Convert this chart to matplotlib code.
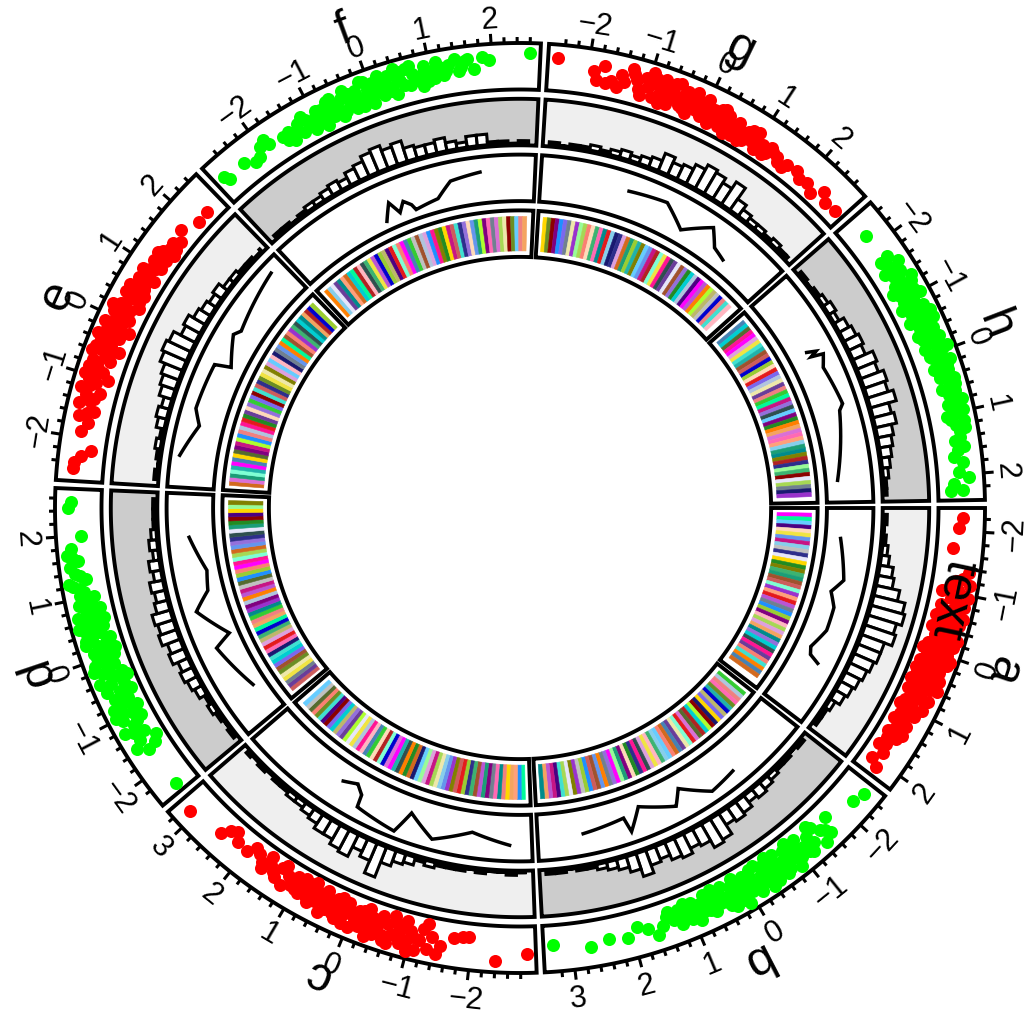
import numpy as np
import matplotlib
matplotlib.use("Agg")
import matplotlib.pyplot as plt
from matplotlib.patches import Polygon

# sectors and their x ranges (data units)
sectors = ["a", "b", "c", "d", "e", "f", "g", "h"]
xlims = [(-2.25, 2.13), (-2.46, 3.34), (-2.92, 3.20), (-2.37, 2.63),
         (-2.58, 2.44), (-2.79, 2.64), (-2.53, 2.73), (-2.44, 2.29)]
point_colors = ["#FF0000", "#00FF00"] * 4
hist_bg = ["#EFEFEF", "#CCCCCC"] * 4

# track 1: points (x, y in 0..1)
points_a = [(-2.22, .53), (-2.05, .43), (-1.71, .29), (-1.35, .85), (-1.25, .70), (-1.15, .92), (-1.05, .60),
            (-0.98, .80), (-0.9, .45), (-0.85, .70), (-0.8, .90), (-0.72, .55), (-0.7, .30), (-0.65, .75),
            (-0.6, .15), (-0.55, .50), (-0.5, .88), (-0.45, .65), (-0.42, .35), (-0.4, .10), (-0.35, .80),
            (-0.3, .55), (-0.28, .25), (-0.22, .70), (-0.2, .45), (-0.15, .90), (-0.12, .15), (-0.08, .60),
            (-0.05, .35), (0.0, .80), (0.02, .50), (0.05, .20), (0.1, .68), (0.12, .40), (0.15, .88),
            (0.2, .10), (0.22, .55), (0.28, .30), (0.3, .75), (0.35, .50), (0.4, .15), (0.42, .85),
            (0.48, .62), (0.5, .38), (0.55, .20), (0.6, .70), (0.65, .48), (0.7, .08), (0.72, .30),
            (0.8, .60), (0.85, .40), (0.9, .15), (0.95, .75), (1.0, .50), (1.05, .25), (1.1, .62),
            (1.2, .40), (1.25, .10), (1.3, .55), (1.4, .30), (1.5, .15), (1.55, .48), (1.7, .30),
            (1.75, .12), (1.85, .38), (2.0, .20), (2.1, .45),
            (-1.1, .35), (-1.0, .15), (-0.95, .95), (-0.78, .20), (-0.62, .95), (-0.52, .30), (-0.38, .60),
            (-0.25, .95), (-0.18, .30), (-0.02, .05), (0.08, .95), (0.18, .75), (0.25, .40), (0.33, .05),
            (0.38, .65), (0.45, .28), (0.58, .90), (0.62, .55), (0.75, .45), (0.78, .80), (0.88, .28),
            (0.98, .05), (1.08, .40), (1.15, .20), (1.35, .40), (1.45, .60), (1.6, .25), (-1.2, .50),
            (-0.6, .62), (0.53, .05)]
points_b = [(-2.4, .65), (-2.2, .55), (-1.7, .30), (-1.6, .70), (-1.5, .45), (-1.45, .85), (-1.4, .20),
            (-1.3, .60), (-1.25, .35), (-1.2, .80), (-1.1, .50), (-1.05, .15), (-1.0, .70), (-0.95, .35),
            (-0.9, .90), (-0.85, .55), (-0.8, .20), (-0.75, .75), (-0.7, .45), (-0.62, .10), (-0.6, .62),
            (-0.55, .30), (-0.5, .85), (-0.45, .50), (-0.4, .20), (-0.35, .70), (-0.3, .40), (-0.25, .05),
            (-0.22, .58), (-0.18, .85), (-0.12, .28), (-0.1, .45), (-0.05, .70), (0.0, .15), (0.05, .55),
            (0.1, .35), (0.12, .80), (0.18, .05), (0.2, .60), (0.25, .25), (0.3, .45), (0.35, .75),
            (0.4, .12), (0.45, .38), (0.5, .55), (0.55, .22), (0.6, .70), (0.65, .40), (0.72, .10),
            (0.78, .55), (0.82, .30), (0.9, .45), (0.95, .15), (1.0, .62), (1.05, .35), (1.12, .50),
            (1.2, .20), (1.3, .45), (1.4, .28), (1.6, .70), (1.9, .30), (2.1, .55), (2.4, .45),
            (2.7, .60), (3.3, .40),
            (-1.55, .55), (-1.35, .10), (-1.15, .70), (-1.02, .45), (-0.88, .05), (-0.78, .40), (-0.68, .85),
            (-0.58, .45), (-0.48, .05), (-0.38, .92), (-0.28, .60), (-0.15, .10), (-0.02, .40), (0.08, .95),
            (0.15, .45), (0.28, .85), (0.38, .60), (0.48, .30), (0.58, .05), (0.68, .60), (0.75, .30),
            (0.88, .75), (0.98, .25), (1.08, .10), (1.18, .65), (1.25, .35), (1.35, .15), (1.5, .50),
            (1.75, .45)]
points_c = [(-2.9, .62), (-2.4, .85), (-1.95, .22), (-1.85, .25), (-1.7, .30), (-1.5, .60), (-1.45, .85),
            (-1.35, .40), (-1.3, .75), (-1.2, .20), (-1.15, .55), (-1.1, .88), (-1.0, .35), (-0.95, .65),
            (-0.9, .10), (-0.85, .80), (-0.8, .45), (-0.75, .25), (-0.7, .60), (-0.65, .90), (-0.6, .35),
            (-0.55, .70), (-0.5, .15), (-0.45, .50), (-0.4, .78), (-0.35, .30), (-0.3, .60), (-0.25, .10),
            (-0.2, .45), (-0.15, .70), (-0.1, .25), (-0.05, .55), (0.0, .85), (0.05, .35), (0.1, .15),
            (0.15, .60), (0.2, .40), (0.25, .75), (0.3, .20), (0.35, .50), (0.4, .30), (0.45, .65),
            (0.5, .10), (0.55, .45), (0.6, .25), (0.65, .55), (0.7, .35), (0.75, .70), (0.8, .15),
            (0.85, .45), (0.9, .28), (0.95, .60), (1.0, .40), (1.05, .15), (1.1, .50), (1.2, .30),
            (1.25, .65), (1.35, .20), (1.45, .45), (1.55, .30), (1.65, .55), (1.8, .25), (2.0, .40),
            (2.2, .35), (2.3, .15), (2.4, .25), (2.5, .50), (3.1, .68),
            (-1.25, .05), (-1.05, .50), (-0.98, .95), (-0.88, .30), (-0.78, .65), (-0.68, .05), (-0.58, .85),
            (-0.48, .30), (-0.38, .55), (-0.28, .90), (-0.18, .20), (-0.08, .65), (0.02, .45), (0.12, .80),
            (0.22, .10), (0.32, .65), (0.42, .48), (0.52, .80), (0.62, .40), (0.72, .05), (0.82, .55),
            (0.92, .10), (1.02, .55), (1.15, .35), (1.3, .05), (1.4, .55), (1.6, .10), (1.7, .40),
            (1.9, .15)]
points_d = [(-2.35, .45), (-1.65, .50), (-1.6, .25), (-1.55, .80), (-1.45, .60), (-1.35, .35), (-1.25, .90),
            (-1.2, .55), (-1.1, .20), (-1.05, .75), (-1.0, .40), (-0.95, .65), (-0.9, .15), (-0.85, .85),
            (-0.8, .50), (-0.75, .30), (-0.7, .70), (-0.62, .10), (-0.6, .45), (-0.55, .80), (-0.5, .25),
            (-0.45, .60), (-0.4, .90), (-0.35, .40), (-0.3, .15), (-0.25, .70), (-0.2, .50), (-0.15, .30),
            (-0.1, .85), (-0.05, .60), (0.0, .20), (0.05, .45), (0.1, .75), (0.15, .35), (0.2, .55),
            (0.25, .90), (0.3, .15), (0.35, .65), (0.4, .40), (0.45, .80), (0.5, .25), (0.55, .55),
            (0.6, .70), (0.65, .35), (0.7, .90), (0.75, .50), (0.8, .20), (0.85, .65), (0.9, .80),
            (0.95, .40), (1.05, .70), (1.1, .55), (1.2, .85), (1.3, .45), (1.4, .75), (1.6, .60),
            (1.7, .90), (1.8, .75), (2.0, .45), (2.45, .80), (2.55, .70),
            (-1.5, .10), (-1.3, .65), (-1.15, .40), (-0.98, .90), (-0.88, .30), (-0.78, .60), (-0.68, .45),
            (-0.58, .20), (-0.48, .75), (-0.38, .05), (-0.28, .55), (-0.18, .95), (-0.08, .40), (0.02, .70),
            (0.12, .10), (0.22, .30), (0.32, .85), (0.42, .60), (0.52, .95), (0.62, .15), (0.72, .60),
            (0.82, .40), (0.92, .60), (1.0, .30), (1.15, .65), (1.25, .95), (1.35, .60), (1.5, .85),
            (1.65, .75)]
points_e = [(-2.5, .70), (-2.4, .68), (-2.3, .50), (-2.2, .25), (-1.9, .60), (-1.75, .45), (-1.65, .75),
            (-1.55, .35), (-1.45, .85), (-1.4, .55), (-1.3, .70), (-1.25, .30), (-1.2, .90), (-1.1, .50),
            (-1.05, .75), (-1.0, .20), (-0.95, .60), (-0.9, .40), (-0.85, .85), (-0.8, .65), (-0.7, .30),
            (-0.65, .50), (-0.6, .92), (-0.55, .70), (-0.5, .15), (-0.45, .45), (-0.4, .80), (-0.35, .60),
            (-0.3, .30), (-0.25, .75), (-0.2, .50), (-0.15, .10), (-0.1, .90), (-0.05, .40), (0.0, .65),
            (0.05, .25), (0.1, .80), (0.15, .50), (0.2, .35), (0.25, .70), (0.3, .15), (0.35, .55),
            (0.4, .40), (0.45, .75), (0.5, .20), (0.55, .60), (0.65, .35), (0.7, .50), (0.8, .15),
            (0.85, .40), (0.9, .65), (1.0, .30), (1.1, .50), (1.2, .20), (1.3, .45), (1.35, .10),
            (1.5, .35), (1.6, .20), (1.75, .40), (2.05, .15), (2.25, .18),
            (-1.6, .55), (-1.35, .45), (-1.15, .65), (-0.98, .90), (-0.88, .55), (-0.75, .80), (-0.62, .40),
            (-0.52, .85), (-0.42, .60), (-0.32, .95), (-0.22, .30), (-0.12, .75), (-0.02, .50), (0.08, .35),
            (0.18, .90), (0.28, .60), (0.38, .25), (0.48, .45), (0.58, .75), (0.6, .30), (0.75, .60),
            (0.95, .45), (1.05, .20), (1.15, .35), (1.25, .55), (1.4, .30), (1.45, .15)]
points_f = [(-2.75, .55), (-2.7, .40), (-2.35, .50), (-2.2, .30), (-2.1, .35), (-2.0, .60), (-1.9, .70),
            (-1.85, .50), (-1.6, .45), (-1.55, .30), (-1.45, .20), (-1.4, .40), (-1.3, .55), (-1.25, .25),
            (-1.2, .70), (-1.1, .35), (-1.05, .15), (-1.0, .50), (-0.95, .65), (-0.9, .30), (-0.85, .10),
            (-0.8, .45), (-0.75, .75), (-0.7, .25), (-0.65, .55), (-0.6, .40), (-0.55, .15), (-0.5, .65),
            (-0.45, .85), (-0.4, .35), (-0.35, .50), (-0.3, .20), (-0.25, .70), (-0.2, .45), (-0.15, .90),
            (-0.1, .30), (-0.05, .60), (0.0, .15), (0.05, .75), (0.1, .45), (0.15, .90), (0.2, .30),
            (0.25, .60), (0.3, .80), (0.35, .45), (0.4, .20), (0.45, .70), (0.5, .55), (0.6, .85),
            (0.65, .35), (0.7, .65), (0.8, .50), (0.85, .25), (0.9, .80), (1.0, .60), (1.05, .40),
            (1.15, .70), (1.25, .55), (1.4, .85), (1.5, .60), (1.55, .75), (1.7, .50), (1.85, .80),
            (1.95, .70), (2.6, .90),
            (-1.5, .50), (-1.35, .35), (-1.15, .55), (-0.98, .25), (-0.88, .60), (-0.78, .30), (-0.68, .80),
            (-0.58, .55), (-0.48, .25), (-0.38, .70), (-0.28, .55), (-0.18, .20), (-0.08, .85), (0.02, .45),
            (0.12, .65), (0.22, .75), (0.32, .35), (0.42, .95), (0.52, .80), (0.55, .40), (0.68, .90),
            (0.75, .45), (0.88, .60), (0.95, .35), (1.1, .85), (1.2, .45), (1.3, .70), (1.45, .50),
            (1.6, .80)]
points_g = [(-2.5, .80), (-1.9, .55), (-1.85, .30), (-1.75, .75), (-1.7, .25), (-1.6, .35), (-1.5, .20),
            (-1.45, .60), (-1.3, .85), (-1.2, .55), (-1.15, .30), (-1.05, .70), (-1.0, .45), (-0.95, .90),
            (-0.9, .20), (-0.85, .60), (-0.8, .35), (-0.75, .80), (-0.7, .50), (-0.65, .15), (-0.6, .65),
            (-0.55, .40), (-0.5, .85), (-0.45, .25), (-0.4, .55), (-0.35, .70), (-0.3, .10), (-0.25, .45),
            (-0.2, .80), (-0.15, .30), (-0.1, .60), (-0.05, .20), (0.0, .75), (0.05, .45), (0.1, .10),
            (0.15, .55), (0.2, .30), (0.25, .65), (0.3, .15), (0.35, .45), (0.4, .60), (0.45, .25),
            (0.5, .40), (0.55, .10), (0.6, .55), (0.7, .30), (0.75, .15), (0.8, .45), (0.9, .25),
            (0.95, .60), (1.0, .10), (1.1, .35), (1.2, .20), (1.25, .45), (1.4, .30), (1.55, .15),
            (1.8, .35), (1.9, .20), (2.05, .25), (2.2, .10), (2.35, .40), (2.5, .20), (2.7, .25),
            (-1.4, .40), (-1.25, .70), (-1.1, .15), (-0.98, .60), (-0.88, .75), (-0.78, .10), (-0.68, .35),
            (-0.58, .80), (-0.48, .45), (-0.38, .20), (-0.28, .65), (-0.18, .55), (-0.08, .35), (0.02, .55),
            (0.12, .35), (0.22, .50), (0.32, .70), (0.42, .05), (0.52, .25), (0.62, .40), (0.68, .05),
            (0.78, .30), (0.85, .55), (0.98, .35), (1.05, .25), (1.15, .10), (1.3, .35), (1.45, .20),
            (1.6, .30)]
points_h = [(-2.2, .45), (-1.75, .60), (-1.7, .35), (-1.6, .80), (-1.55, .50), (-1.5, .25), (-1.45, .70),
            (-1.4, .45), (-1.3, .90), (-1.25, .30), (-1.2, .60), (-1.15, .15), (-1.1, .75), (-1.05, .45),
            (-1.0, .90), (-0.95, .30), (-0.9, .60), (-0.85, .15), (-0.8, .80), (-0.75, .50), (-0.7, .35),
            (-0.65, .70), (-0.6, .20), (-0.55, .90), (-0.5, .55), (-0.45, .40), (-0.4, .75), (-0.35, .25),
            (-0.3, .60), (-0.25, .85), (-0.2, .45), (-0.15, .65), (-0.1, .30), (-0.05, .80), (0.0, .55),
            (0.05, .40), (0.1, .70), (0.15, .90), (0.2, .50), (0.25, .35), (0.3, .75), (0.35, .60),
            (0.4, .45), (0.45, .85), (0.5, .65), (0.6, .40), (0.65, .75), (0.7, .55), (0.8, .90),
            (0.85, .45), (0.9, .70), (1.0, .60), (1.05, .35), (1.15, .80), (1.2, .55), (1.3, .65),
            (1.45, .45), (1.55, .70), (1.7, .35), (1.8, .60), (1.95, .45), (2.05, .75), (2.15, .30),
            (2.25, .55), (2.25, .20),
            (-1.65, .45), (-1.5, .65), (-1.35, .55), (-1.22, .80), (-1.08, .30), (-0.98, .65), (-0.88, .40),
            (-0.78, .65), (-0.68, .90), (-0.58, .40), (-0.48, .75), (-0.38, .50), (-0.28, .35), (-0.18, .70),
            (-0.08, .95), (0.02, .35), (0.12, .55), (0.22, .75), (0.32, .45), (0.42, .65), (0.55, .80),
            (0.62, .55), (0.75, .70), (0.88, .60), (0.98, .85), (1.1, .45), (1.25, .80), (1.4, .60),
            (1.6, .50)]
points = [points_a, points_b, points_c, points_d, points_e, points_f, points_g, points_h]

# track 2: histogram counts, bins of 0.2 from the sector start
HIST_BIN, HIST_MAX = 0.2, 16
hist_a = [1, 0, 1, 2, 3, 5, 6, 9, 12, 13, 11, 12, 9, 9, 8, 7, 6, 5, 4, 2, 1, 1]
hist_b = [1, 0, 1, 1, 2, 3, 4, 3, 5, 6, 5, 9, 10, 7, 6, 8, 7, 5, 6, 9, 6, 4, 3, 2, 1, 1, 0, 1, 1]
hist_c = [0, 1, 0, 0, 1, 0, 1, 1, 1, 2, 1, 3, 4, 6, 12, 7, 5, 9, 8, 6, 6, 4, 3, 2, 2, 1, 1, 0, 1, 0, 1]
hist_d = [1, 0, 1, 2, 1, 3, 4, 5, 4, 6, 5, 7, 6, 7, 5, 4, 5, 3, 4, 2, 3, 2, 1, 1, 1]
hist_e = [1, 0, 1, 2, 1, 3, 4, 3, 5, 6, 7, 9, 10, 9, 6, 7, 5, 4, 3, 4, 2, 2, 1, 1, 0, 1]
hist_f = [1, 1, 0, 1, 2, 2, 3, 4, 3, 5, 6, 8, 9, 7, 8, 5, 4, 4, 5, 3, 2, 4, 4, 1, 1, 0, 1, 0]
hist_g = [1, 0, 1, 1, 2, 1, 2, 3, 2, 3, 4, 7, 5, 6, 8, 10, 9, 7, 10, 5, 3, 2, 2, 1, 2, 1, 1]
hist_h = [1, 0, 1, 2, 3, 2, 4, 5, 6, 5, 8, 7, 9, 8, 10, 7, 8, 6, 5, 4, 3, 2, 1, 1]
hists = [hist_a, hist_b, hist_c, hist_d, hist_e, hist_f, hist_g, hist_h]

# track 3: line per sector (x, y in 0..1)
line_a = [(-1.70, .30), (-0.81, .54), (-0.51, .30), (-0.19, .48), (0.33, .50), (0.79, .30), (0.95, .38), (1.05, .64)]
line_b = [(-1.0, .70), (-0.4, .80), (0.19, .30), (0.41, .66), (1.16, .28), (1.48, .80), (1.55, .42), (2.48, .54)]
line_c = [(-2.57, .68), (-1.75, .44), (-0.94, .81), (-0.36, .34), (-0.14, .91), (0.76, .75), (0.80, .44),
          (0.99, .25), (1.30, .38)]
line_d = [(-1.71, .25), (-0.63, .60), (-0.44, .16), (0.24, .74), (0.61, .32), (1.05, .23), (1.82, .55)]
line_e = [(-2.04, .85), (-1.35, .52), (-1.01, .72), (-0.01, .68), (0.09, .28), (0.74, .62), (0.89, .50), (2.25, .80)]
line_f = [(-0.65, .15), (-0.45, .55), (-0.3, .22), (-0.15, .45), (0.0, .30), (0.06, .15), (0.6, .25),
          (0.95, .60), (1.6, .70)]
line_g = [(-0.74, .62), (0.10, .72), (0.63, .28), (1.20, .76), (1.47, .37), (1.78, .26)]
line_h = [(-1.0, .40), (-0.93, .62), (-0.87, .45), (-0.81, .75), (-0.55, .60), (0.31, .72), (0.43, .60), (1.92, .22)]
lines = [line_a, line_b, line_c, line_d, line_e, line_f, line_g, line_h]

# track 4: colour stripes of width 0.1
STRIPE_W = 0.1
palette = ["#E41A1C", "#FF7F00", "#FFD700", "#F0E442", "#A6D854", "#33CC33", "#1B9E77", "#00CED1",
           "#66CCFF", "#1E90FF", "#0000CD", "#2E2E8B", "#6A3D9A", "#9932CC", "#FF00FF", "#FF69B4",
           "#FFB6C1", "#C71585", "#8B0000", "#A0522D", "#D2691E", "#F4A460", "#FFDAB9", "#BDB76B",
           "#808000", "#556B2F", "#2F4F4F", "#708090", "#B0C4DE", "#87CEEB", "#40E0D0", "#7FFFD4",
           "#98FB98", "#00FA9A", "#ADFF2F", "#9ACD32", "#6B8E23", "#228B22", "#008B8B", "#4682B4",
           "#6495ED", "#7B68EE", "#BA55D3", "#DA70D6", "#DDA0DD", "#E6E6FA", "#F08080", "#FA8072",
           "#CD5C5C", "#B22222", "#800080", "#4B0082", "#191970", "#FF1493", "#FFA07A", "#EEE8AA",
           "#C0C0C0", "#20B2AA", "#3CB371", "#9370DB"]
stripes_a = [14, 33, 8, 51, 22, 3, 40, 17, 29, 56, 11, 45, 2, 37, 24, 58, 6, 19, 48, 31, 13, 54, 0, 42, 27,
             9, 35, 50, 16, 4, 44, 21, 38, 59, 7, 26, 53, 12, 47, 30, 1, 39, 20]
stripes_b = [5, 28, 46, 15, 36, 57, 10, 23, 41, 2, 52, 18, 34, 7, 49, 25, 43, 0, 31, 55, 12, 39, 20, 47, 8,
             29, 58, 16, 3, 44, 26, 53, 11, 37, 22, 50, 6, 32, 14, 59, 27, 1, 40, 19, 48, 9, 35, 56, 13, 24,
             45, 4, 30, 51, 17, 42, 21, 38]
stripes_c = [33, 9, 54, 21, 2, 46, 38, 15, 27, 50, 6, 42, 19, 58, 11, 35, 0, 48, 24, 13, 40, 29, 55, 4, 17,
             44, 32, 8, 52, 20, 37, 1, 26, 57, 14, 43, 10, 31, 49, 22, 5, 39, 16, 53, 28, 3, 45, 34, 12, 59,
             23, 7, 41, 18, 51, 30, 36, 47, 25, 56, 8]
stripes_d = [48, 12, 27, 3, 55, 36, 19, 41, 7, 30, 52, 15, 0, 44, 23, 58, 10, 33, 21, 46, 5, 38, 13, 50, 28,
             1, 42, 17, 56, 25, 9, 35, 47, 14, 53, 31, 4, 20, 40, 59, 11, 26, 45, 6, 37, 18, 51, 2, 32, 24]
stripes_e = [20, 43, 6, 31, 57, 14, 39, 2, 25, 50, 17, 34, 9, 46, 28, 53, 0, 37, 12, 22, 59, 5, 41, 18, 30,
             48, 11, 36, 3, 55, 24, 44, 8, 16, 52, 27, 40, 1, 33, 19, 47, 13, 58, 26, 7, 38, 21, 49, 10, 35]
stripes_f = [1, 29, 45, 12, 38, 54, 20, 7, 33, 49, 16, 26, 58, 3, 42, 10, 35, 23, 51, 0, 31, 47, 14, 39, 5,
             56, 19, 28, 44, 9, 53, 24, 37, 2, 17, 48, 30, 11, 59, 22, 40, 6, 34, 50, 15, 27, 43, 4, 55, 18,
             36, 8, 46, 21]
stripes_g = [2, 36, 18, 50, 9, 41, 27, 55, 13, 32, 4, 47, 22, 58, 15, 38, 0, 29, 52, 11, 44, 20, 6, 35, 57,
             24, 8, 40, 17, 49, 31, 3, 53, 26, 12, 45, 19, 59, 37, 7, 28, 51, 14, 42, 1, 34, 23, 56, 10, 46,
             30, 16]
stripes_h = [39, 7, 25, 53, 14, 44, 3, 30, 57, 19, 48, 10, 35, 22, 0, 41, 28, 55, 12, 46, 5, 33, 17, 59, 26,
             8, 50, 37, 1, 21, 43, 15, 54, 29, 6, 38, 24, 49, 11, 32, 58, 18, 45, 4, 27, 52, 13]
stripes = [stripes_a, stripes_b, stripes_c, stripes_d, stripes_e, stripes_f, stripes_g, stripes_h]

FONT = "Liberation Sans"

fig = plt.figure(figsize=(10.29, 10.15), dpi=100)
ax = fig.add_axes([0, 0, 1, 1])
ax.set_xlim(0, 1029)
ax.set_ylim(0, 1015)
ax.set_aspect("equal")
ax.axis("off")

CX, CY, R = 520.0, 507.0, 465.0
tracks = [(R * 1.00, R * 0.90), (R * 0.88, R * 0.78), (R * 0.76, R * 0.66), (R * 0.64, R * 0.54)]
GAP, PAD = 1.0, 1.0   # degrees between sectors / inside each cell
K = (360 - len(sectors) * (GAP + 2 * PAD)) / sum(x1 - x0 for x0, x1 in xlims)

starts = []
t0 = 0.0
for x0, x1 in xlims:
    starts.append(t0)
    t0 -= (x1 - x0) * K + 2 * PAD + GAP


def ang(i, x):
    return starts[i] - PAD - (np.asarray(x) - xlims[i][0]) * K


def pol(t, r):
    t = np.radians(t)
    return CX + r * np.cos(t), CY + r * np.sin(t)


def band(t1, t2, r1, r2):
    n = max(int(abs(t2 - t1) * 4), 2)
    t = np.linspace(t1, t2, n)
    xo, yo = pol(t, r2)
    xi, yi = pol(t[::-1], r1)
    return np.column_stack([np.r_[xo, xi], np.r_[yo, yi]])


def rad(track, v, pad):
    ro, ri = tracks[track]
    return ri + pad + np.asarray(v) * (ro - ri - 2 * pad)


for i, s in enumerate(sectors):
    x0, x1 = xlims[i]
    ts = starts[i]
    te = ts - (x1 - x0) * K - 2 * PAD

    # cell backgrounds with borders
    for k, (ro, ri) in enumerate(tracks):
        fc = hist_bg[i] if k == 1 else "white"
        ax.add_patch(Polygon(band(ts, te, ri, ro), closed=True, fc=fc, ec="black",
                             lw=2.8, joinstyle="miter", zorder=1))

    # points
    px, py = zip(*points[i])
    xx, yy = pol(ang(i, px), rad(0, py, 6))
    ax.scatter(xx, yy, s=88, c=point_colors[i], linewidths=0, zorder=3)

    # axis on top of track 1
    for v in np.arange(np.ceil(x0 / 0.2 - 1e-9) * 0.2, x1 + 1e-9, 0.2):
        v = round(v, 1)
        major = abs(v - round(v)) < 1e-6
        t = float(ang(i, v))
        L = 10 if major else 6
        xa, ya = pol(t, R)
        xb, yb = pol(t, R + L)
        ax.plot([xa, xb], [ya, yb], color="black", lw=2.2, solid_capstyle="butt", zorder=4)
        if major:
            lbl = str(int(round(v))).replace("-", "\u2212")
            tm = t % 360
            tx, ty = pol(t, R + 15)
            if 0 < tm < 180:
                ax.text(tx, ty, lbl, rotation=tm - 90, ha="center", va="baseline",
                        rotation_mode="anchor", fontsize=22, family=FONT, zorder=5)
            else:
                ax.text(tx, ty, lbl, rotation=tm + 90, ha="center", va="top",
                        rotation_mode="anchor", fontsize=22, family=FONT, zorder=5)

    # sector name
    tc = float(ang(i, (x0 + x1) / 2))
    lx, ly = pol(tc, 509)
    ax.text(lx, ly, s, rotation=tc - 90, ha="center", va="center", rotation_mode="anchor",
            fontsize=35, family=FONT, zorder=6)

    # histogram
    ro, ri = tracks[1]
    for j, c in enumerate(hists[i]):
        xa_ = x0 + HIST_BIN * j
        xb_ = min(xa_ + HIST_BIN, x1)
        r1 = ri + 2
        r2 = r1 + c / HIST_MAX * (ro - ri - 4)
        ax.add_patch(Polygon(band(float(ang(i, xa_)), float(ang(i, xb_)), r1, r2), closed=True,
                             fc="white", ec="black", lw=2.2, joinstyle="miter", zorder=3))

    # line
    lxs, lys = zip(*lines[i])
    sx = np.concatenate([np.linspace(lxs[p], lxs[p + 1], 12) for p in range(len(lxs) - 1)])
    sy = np.concatenate([np.linspace(lys[p], lys[p + 1], 12) for p in range(len(lys) - 1)])
    qx, qy = pol(ang(i, sx), rad(2, sy, 3))
    ax.plot(qx, qy, color="black", lw=2.5, solid_joinstyle="miter", zorder=3)

    # colour stripes
    ro, ri = tracks[3]
    for j, ci in enumerate(stripes[i]):
        xa_ = x0 + STRIPE_W * j
        xb_ = xa_ + STRIPE_W
        if xb_ > x1 + 1e-9:
            break
        ax.add_patch(Polygon(band(float(ang(i, xa_)), float(ang(i, xb_)), ri + 6, ro - 6), closed=True,
                             fc=palette[ci], ec=palette[ci], lw=0.4, zorder=2))

# free text in sector a, track 1
tt = float(ang(0, -0.9))
tx, ty = pol(tt, rad(0, 0.5, 0))
ax.text(tx, ty, "text", rotation=tt - 90, ha="center", va="center", rotation_mode="anchor",
        fontsize=36, family=FONT, zorder=6)

fig.savefig("out.png", dpi=100)
